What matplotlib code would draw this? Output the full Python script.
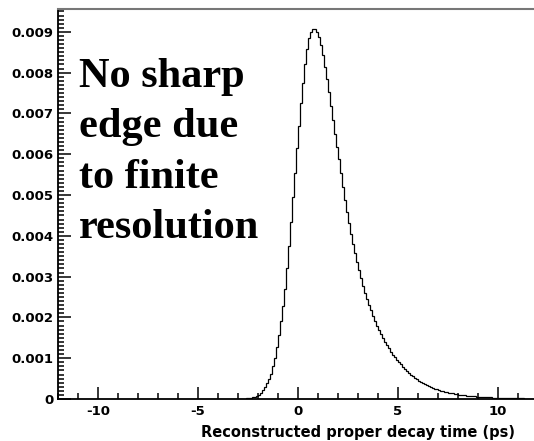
import matplotlib
matplotlib.use("Agg")
import matplotlib.pyplot as plt
import numpy as np
from matplotlib.ticker import FixedLocator, FixedFormatter, MultipleLocator

# Histogram bins (ps) and contents (in units of 1e-3)
bin_lo = -3.0
bin_width = 0.1
counts_e3 = [
    # -3.0 .. -2.0
    0.0, 0.0, 0.005, 0.01, 0.015, 0.02, 0.03, 0.04, 0.055, 0.07,
    # -2.0 .. -1.0
    0.10, 0.14, 0.21, 0.29, 0.38, 0.49, 0.62, 0.80, 1.00, 1.28,
    # -1.0 .. 0.0
    1.57, 1.90, 2.28, 2.70, 3.20, 3.75, 4.35, 4.95, 5.55, 6.15,
    # 0.0 .. 1.0
    6.70, 7.25, 7.75, 8.20, 8.58, 8.85, 9.00, 9.08, 9.08, 9.00,
    # 1.0 .. 2.0
    8.88, 8.68, 8.43, 8.15, 7.85, 7.52, 7.18, 6.84, 6.50, 6.17,
    # 2.0 .. 3.0
    5.89, 5.53, 5.20, 4.88, 4.59, 4.31, 4.05, 3.80, 3.57, 3.36,
    # 3.0 .. 4.0
    3.15, 2.96, 2.78, 2.61, 2.46, 2.31, 2.17, 2.04, 1.91, 1.80,
    # 4.0 .. 5.0
    1.69, 1.59, 1.49, 1.40, 1.32, 1.24, 1.16, 1.09, 1.02, 0.96,
    # 5.0 .. 6.0
    0.90, 0.85, 0.79, 0.735, 0.685, 0.64, 0.595, 0.555, 0.515, 0.48,
    # 6.0 .. 7.0
    0.445, 0.415, 0.385, 0.36, 0.335, 0.31, 0.29, 0.27, 0.25, 0.235,
    # 7.0 .. 8.0
    0.22, 0.205, 0.19, 0.178, 0.166, 0.155, 0.145, 0.135, 0.126, 0.118,
    # 8.0 .. 9.0
    0.11, 0.103, 0.096, 0.09, 0.084, 0.078, 0.073, 0.068, 0.064, 0.06,
    # 9.0 .. 10.0
    0.056, 0.052, 0.049, 0.046, 0.043, 0.04, 0.037, 0.035, 0.033, 0.031,
    # 10.0 .. 11.0
    0.029, 0.027, 0.025, 0.023, 0.022, 0.02, 0.019, 0.018, 0.017, 0.016,
    # 11.0 .. 12.0
    0.015, 0.014, 0.013, 0.012, 0.011, 0.01, 0.01, 0.009, 0.009, 0.008,
]

y_ticks = [0, 0.001, 0.002, 0.003, 0.004, 0.005, 0.006, 0.007, 0.008, 0.009]
y_labels = ["0", "0.001", "0.002", "0.003", "0.004", "0.005", "0.006", "0.007", "0.008", "0.009"]
x_ticks = [-10, -5, 0, 5, 10]
x_labels = ["-10", "-5", "0", "5", "10"]
x_title = "Reconstructed proper decay time (ps)"
note = "No sharp\nedge due\nto finite\nresolution"

W, H = 534, 441
fig = plt.figure(figsize=(W / 100, H / 100), dpi=100)
ax = fig.add_axes([58 / W, 42 / H, (W - 58) / W + 0.002, 390 / H])

values = np.array(counts_e3) * 1e-3
edges = bin_lo + bin_width * np.arange(len(values) + 1)
ax.stairs(values, edges, color="black", linewidth=0.9)

ax.set_xlim(-12, 11.85)
ax.set_ylim(0, 0.00956)

for s in ["left", "bottom"]:
    ax.spines[s].set_color("black")
    ax.spines[s].set_linewidth(1.3)
ax.spines["top"].set_color("#777777")
ax.spines["top"].set_linewidth(1.5)
ax.spines["right"].set_visible(False)

ax.yaxis.set_major_locator(FixedLocator(y_ticks))
ax.yaxis.set_major_formatter(FixedFormatter(y_labels))
ax.yaxis.set_minor_locator(MultipleLocator(0.0001))
ax.xaxis.set_major_locator(FixedLocator(x_ticks))
ax.xaxis.set_major_formatter(FixedFormatter(x_labels))
ax.xaxis.set_minor_locator(MultipleLocator(1))

ax.tick_params(which="both", direction="in", color="black", width=1.1)
ax.tick_params(which="major", length=9)
ax.tick_params(which="minor", length=4.5)
ax.tick_params(axis="y", which="major", pad=3.5)
ax.tick_params(axis="x", which="major", pad=4)
for lab in ax.get_yticklabels() + ax.get_xticklabels():
    lab.set_fontfamily("DejaVu Sans")
    lab.set_fontweight("bold")
    lab.set_fontsize(9.5)

fig.text(515 / W, 1 - 432 / H, x_title, ha="right", va="center",
         fontfamily="DejaVu Sans", fontweight="bold", fontsize=10.5)

ax.text(79 / W, 1 - 58 / H, note, transform=fig.transFigure, ha="left", va="top",
        fontfamily="Liberation Serif", fontweight="bold", fontsize=30.5,
        linespacing=1.43)

fig.savefig("out.png", dpi=100)
